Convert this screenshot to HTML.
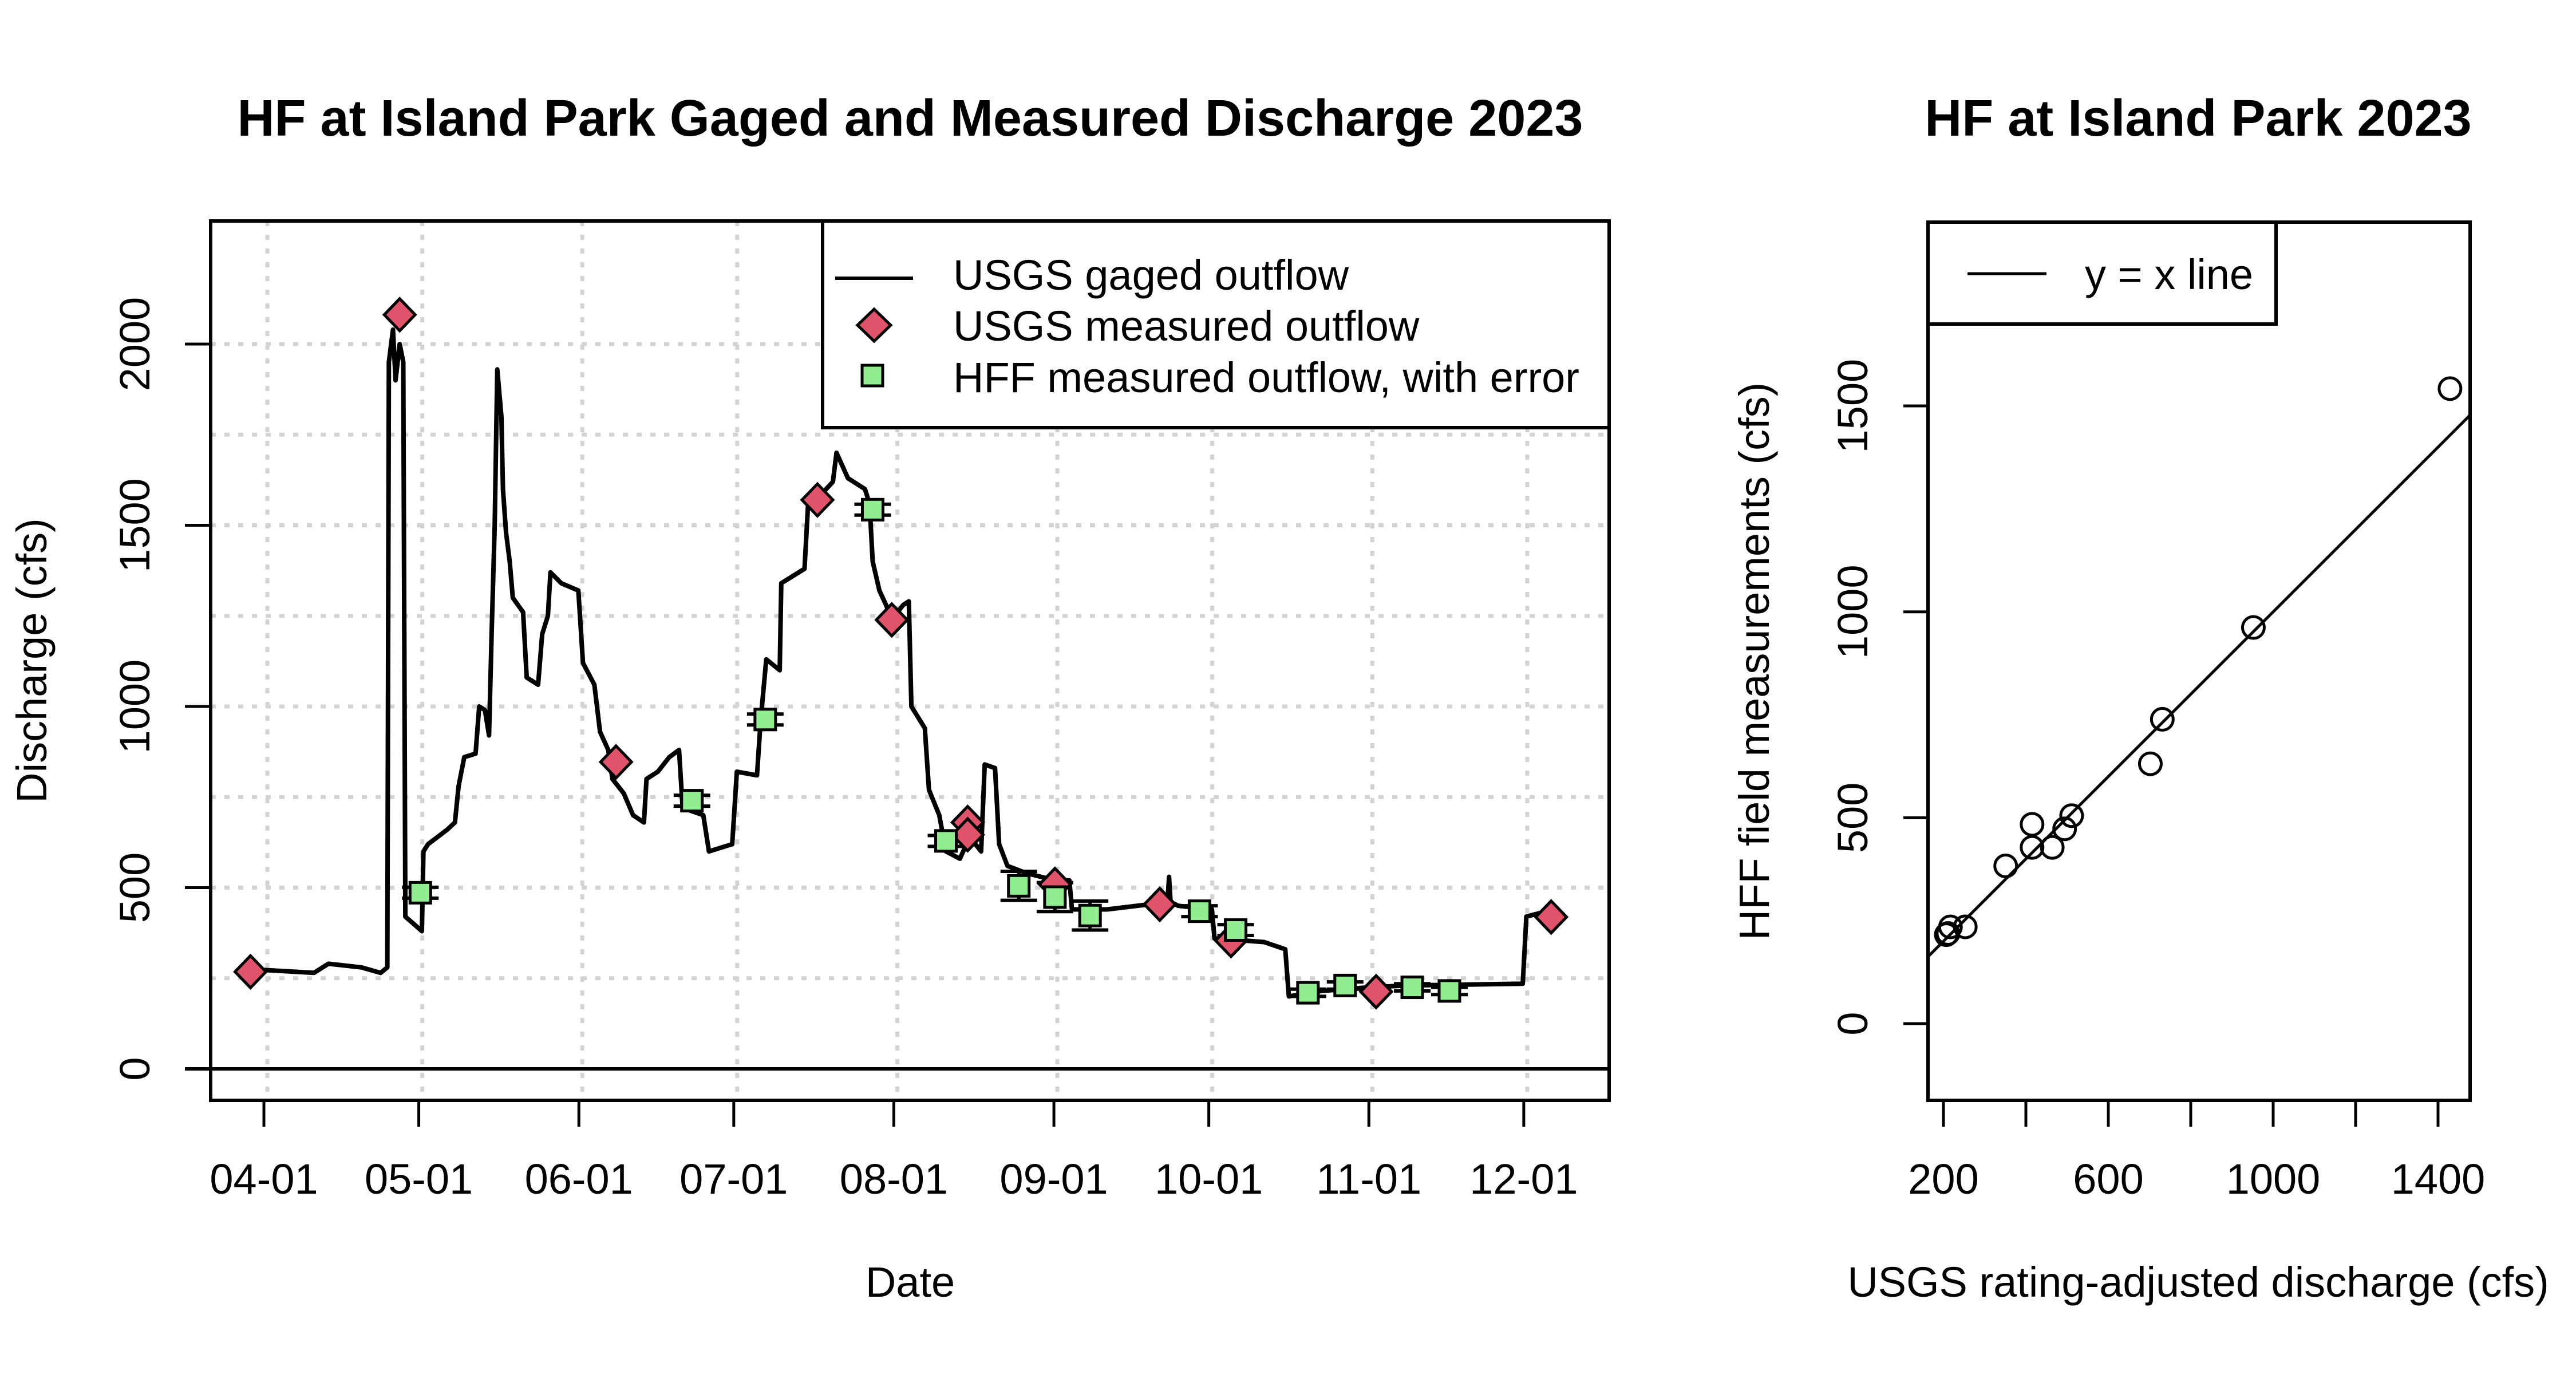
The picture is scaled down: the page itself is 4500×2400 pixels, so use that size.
<!DOCTYPE html>
<html><head><meta charset="utf-8">
<style>
html,body{margin:0;padding:0;background:#fff;}
svg{display:block;font-family:"Liberation Sans",Arial,sans-serif;}
</style></head>
<body>
<svg id="fig" xmlns="http://www.w3.org/2000/svg" width="4500" height="2400" viewBox="0 0 4500 2400">
<rect x="0" y="0" width="4500" height="2400" fill="#fff"/>
<g id="left"></g>
<g id="right"></g>
</svg>
<script>
// ---- Left chart data (day offset from 04-01, discharge cfs) ----
const gageDays = [-5,9.7,12.5,18.9,22.6,23.9,24.2,25.0,25.5,26.3,27.0,27.4,29.0,30.6,30.9,31.8,35.5,37.0,37.7,38.8,41.0,41.7,42.8,43.6,44.1,44.7,45.2,46.0,46.3,46.9,47.6,48.2,50.2,50.9,53.1,53.9,55.0,55.5,57.6,60.9,61.8,64.0,65.1,66.7,67.5,69.7,71.5,73.6,74.1,76.3,78.5,80.4,81.1,85.1,86.2,90.7,91.6,95.5,96.2,97.3,99.9,100.2,104.7,105.4,107.6,110.2,110.9,113.1,116.4,117.3,117.9,119.2,120.5,121.6,123.8,124.9,125.4,128.0,128.8,130.8,132.1,134.8,136.7,138.9,139.6,141.6,142.4,144.0,147.7,153.2,156.0,156.5,163.3,175.0,175.3,175.6,177.1,183.6,184.1,193.7,197.8,198.5,204.8,214.0,221.3,243.8,244.5,247.1,249.0];
const gageFlow = [277,265,290,280,265,280,1950,2040,1900,2000,1950,420,400,380,600,620,660,680,780,860,870,1000,990,920,1200,1500,1930,1800,1600,1480,1400,1300,1260,1080,1060,1200,1250,1370,1340,1320,1120,1060,930,880,800,760,700,680,800,820,860,880,720,700,600,620,820,810,960,1130,1100,1340,1380,1560,1580,1620,1700,1630,1600,1560,1400,1320,1280,1240,1280,1290,1000,940,770,700,600,580,640,600,840,830,620,560,540,520,520,440,440,460,530,460,450,440,360,350,330,200,215,225,230,235,420,430,425];
const usgsDays = [-2.6,26.3,68.2,107.2,121.6,136.3,136.3,153.2,173.5,187.3,215.4,249.3];
const usgsFlow = [268,2081,847,1570,1239,680,646,509,454,354,213,419];
const hffDays = [30.3,82.9,97.1,117.9,132.1,146.2,153.2,160.0,181.2,188.2,202.2,209.4,222.4,229.6];
const hffFlow = [486,740,964,1543,629,505,474,423,435,383,210,230,225,215];
const hffErr  = [15,15,15,15,15,40,40,40,15,15,10,10,10,10];
const monthTicks = [0,30,61,91,122,153,183,214,244];
const monthLabels = ["04-01","05-01","06-01","07-01","08-01","09-01","10-01","11-01","12-01"];
const yTicksL = [0,500,1000,1500,2000];
// ---- Right chart data ----
const scatX = [207,211,217,253,351,415,415,464,494,511,702,731,952,1429];
const scatY = [216,219,235,235,383,428,484,428,473,505,631,739,962,1542];
const xTicksR = [200,400,600,800,1000,1200,1400];
const xLabelsR = ["200","","600","","1000","","1400"];
const yTicksR = [0,500,1000,1500];

const NS="http://www.w3.org/2000/svg";
function mk(parent,tag,attrs,text){const e=document.createElementNS(NS,tag);for(const k in attrs)e.setAttribute(k,attrs[k]);if(text!==undefined)e.textContent=text;parent.appendChild(e);return e;}

// ===== Left chart =====
const L=document.getElementById('left');
const LB={x0:368,x1:2811,y0:386,y1:1922};
const xL=d=>461+d*9.02;
const yL=v=>1867-v*0.633;

for(let v=250; v<=2000; v+=250){
  const g=mk(L,'line',{x1:LB.x0,x2:LB.x1,y1:yL(v),y2:yL(v),stroke:'#d3d3d3','stroke-width':7,'stroke-dasharray':'9 15'});
  
  
}
monthTicks.forEach(d=>{
  const g=mk(L,'line',{x1:xL(d)+6,x2:xL(d)+6,y1:LB.y0,y2:LB.y1,stroke:'#d3d3d3','stroke-width':7,'stroke-dasharray':'9 15'});
  
  
});
const zl=mk(L,'line',{x1:LB.x0,x2:LB.x1,y1:yL(0),y2:yL(0),stroke:'#000','stroke-width':6});


const zt=mk(L,'line',{x1:323,x2:LB.x0,y1:yL(0),y2:yL(0),stroke:'#000','stroke-width':6});



let pts=gageDays.map((d,i)=>xL(d).toFixed(1)+','+yL(gageFlow[i]).toFixed(1)).join(' ');
const gl=mk(L,'polyline',{points:pts,fill:'none',stroke:'#000','stroke-width':8,'stroke-linejoin':'round'});



hffDays.forEach((d,i)=>{
  const cx=xL(d), cy=yL(hffFlow[i]), ey=hffErr[i]*0.633;
  const eb=mk(L,'path',{d:`M${cx},${cy-ey}V${cy+ey}M${cx-32},${cy-ey}H${cx+32}M${cx-32},${cy+ey}H${cx+32}`,stroke:'#000','stroke-width':6,fill:'none'});
  
  
});
usgsDays.forEach((d,i)=>{
  const cx=xL(d), cy=yL(usgsFlow[i]);
  const p=mk(L,'polygon',{points:`${cx},${cy-28} ${cx+27},${cy} ${cx},${cy+28} ${cx-27},${cy}`,fill:'#DF536B',stroke:'#000','stroke-width':5});
  
  
});
hffDays.forEach((d,i)=>{
  const cx=xL(d), cy=yL(hffFlow[i]);
  const r=mk(L,'rect',{x:cx-18,y:cy-18,width:36,height:36,fill:'#90EE90',stroke:'#000','stroke-width':5});
  
  
});

const lbx=mk(L,'rect',{x:LB.x0,y:LB.y0,width:LB.x1-LB.x0,height:LB.y1-LB.y0,fill:'none',stroke:'#000','stroke-width':6});



monthTicks.forEach((d,i)=>{
  const t=mk(L,'line',{x1:xL(d),x2:xL(d),y1:LB.y1,y2:1968,stroke:'#000','stroke-width':5});
  
  
  const tl=mk(L,'text',{x:xL(d),y:2085,'font-size':74,'text-anchor':'middle'},monthLabels[i]);
  
  
});
yTicksL.forEach(v=>{
  const t=mk(L,'line',{x1:323,x2:LB.x0,y1:yL(v),y2:yL(v),stroke:'#000','stroke-width':5});
  
  
  const tl=mk(L,'text',{x:0,y:0,'font-size':74,'text-anchor':'middle',transform:`translate(261,${yL(v)}) rotate(-90)`},String(v));
  
  
});
const t1=mk(L,'text',{x:1590,y:237,'font-size':90,'font-weight':'bold','text-anchor':'middle'},'HF at Island Park Gaged and Measured Discharge 2023');


const xt=mk(L,'text',{x:1590,y:2265,'font-size':74,'text-anchor':'middle'},'Date');


const yt=mk(L,'text',{x:0,y:0,'font-size':74,'text-anchor':'middle',transform:`translate(81,${(LB.y0+LB.y1)/2}) rotate(-90)`},'Discharge (cfs)');



const lg=mk(L,'g',{});


mk(lg,'rect',{x:1437,y:386,width:1374,height:361,fill:'#fff',stroke:'#000','stroke-width':6});
mk(lg,'line',{x1:1459,x2:1595,y1:486,y2:486,stroke:'#000','stroke-width':6});
const le1=mk(lg,'text',{x:1665,y:506,'font-size':74},'USGS gaged outflow');


mk(lg,'polygon',{points:'1527,540 1556,568 1527,596 1498,568',fill:'#DF536B',stroke:'#000','stroke-width':5});
const le2=mk(lg,'text',{x:1665,y:595,'font-size':74},'USGS measured outflow');


mk(lg,'rect',{x:1506,y:638,width:36,height:36,fill:'#90EE90',stroke:'#000','stroke-width':5});
const le3=mk(lg,'text',{x:1665,y:685,'font-size':74},'HFF measured outflow, with error');



// ===== Right chart =====
const R=document.getElementById('right');
const RB={x0:3368,x1:4315,y0:388,y1:1922};
const xR=v=>3395+(v-200)*0.72;
const yR=v=>1788-v*0.7193;

const xmin=(RB.x0-3395)/0.72+200, xmax=(RB.x1-3395)/0.72+200;
const yxl=mk(R,'line',{x1:xR(xmin),y1:yR(xmin),x2:xR(xmax),y2:yR(xmax),stroke:'#000','stroke-width':5});


scatX.forEach((v,i)=>{
  const c=mk(R,'ellipse',{cx:xR(v),cy:yR(scatY[i]),rx:19,ry:19,fill:'none',stroke:'#000','stroke-width':5});
  
  
});
const rbx=mk(R,'rect',{x:RB.x0,y:RB.y0,width:RB.x1-RB.x0,height:RB.y1-RB.y0,fill:'none',stroke:'#000','stroke-width':6});


xTicksR.forEach((v,i)=>{
  const t=mk(R,'line',{x1:xR(v),x2:xR(v),y1:RB.y1,y2:1968,stroke:'#000','stroke-width':5});
  
  
  if(xLabelsR[i]){
    const tl=mk(R,'text',{x:xR(v),y:2085,'font-size':74,'text-anchor':'middle'},xLabelsR[i]);
    
    
  }
});
yTicksR.forEach(v=>{
  const t=mk(R,'line',{x1:3325,x2:RB.x0,y1:yR(v),y2:yR(v),stroke:'#000','stroke-width':5});
  
  
  const tl=mk(R,'text',{x:0,y:0,'font-size':74,'text-anchor':'middle',transform:`translate(3262,${yR(v)}) rotate(-90)`},String(v));
  
  
});
const rt=mk(R,'text',{x:3840,y:237,'font-size':90,'font-weight':'bold','text-anchor':'middle'},'HF at Island Park 2023');


const rxt=mk(R,'text',{x:3840,y:2265,'font-size':74,'text-anchor':'middle'},'USGS rating-adjusted discharge (cfs)');


const ryt=mk(R,'text',{x:0,y:0,'font-size':74,'text-anchor':'middle',transform:`translate(3090,${(RB.y0+RB.y1)/2}) rotate(-90)`},'HFF field measurements (cfs)');


const rl=mk(R,'g',{});


mk(rl,'rect',{x:3368,y:388,width:608,height:178,fill:'#fff',stroke:'#000','stroke-width':6});
mk(rl,'line',{x1:3437,x2:3575,y1:478,y2:478,stroke:'#000','stroke-width':5});
const rle=mk(rl,'text',{x:3642,y:505,'font-size':74},'y = x line');


</script>
</body></html>
